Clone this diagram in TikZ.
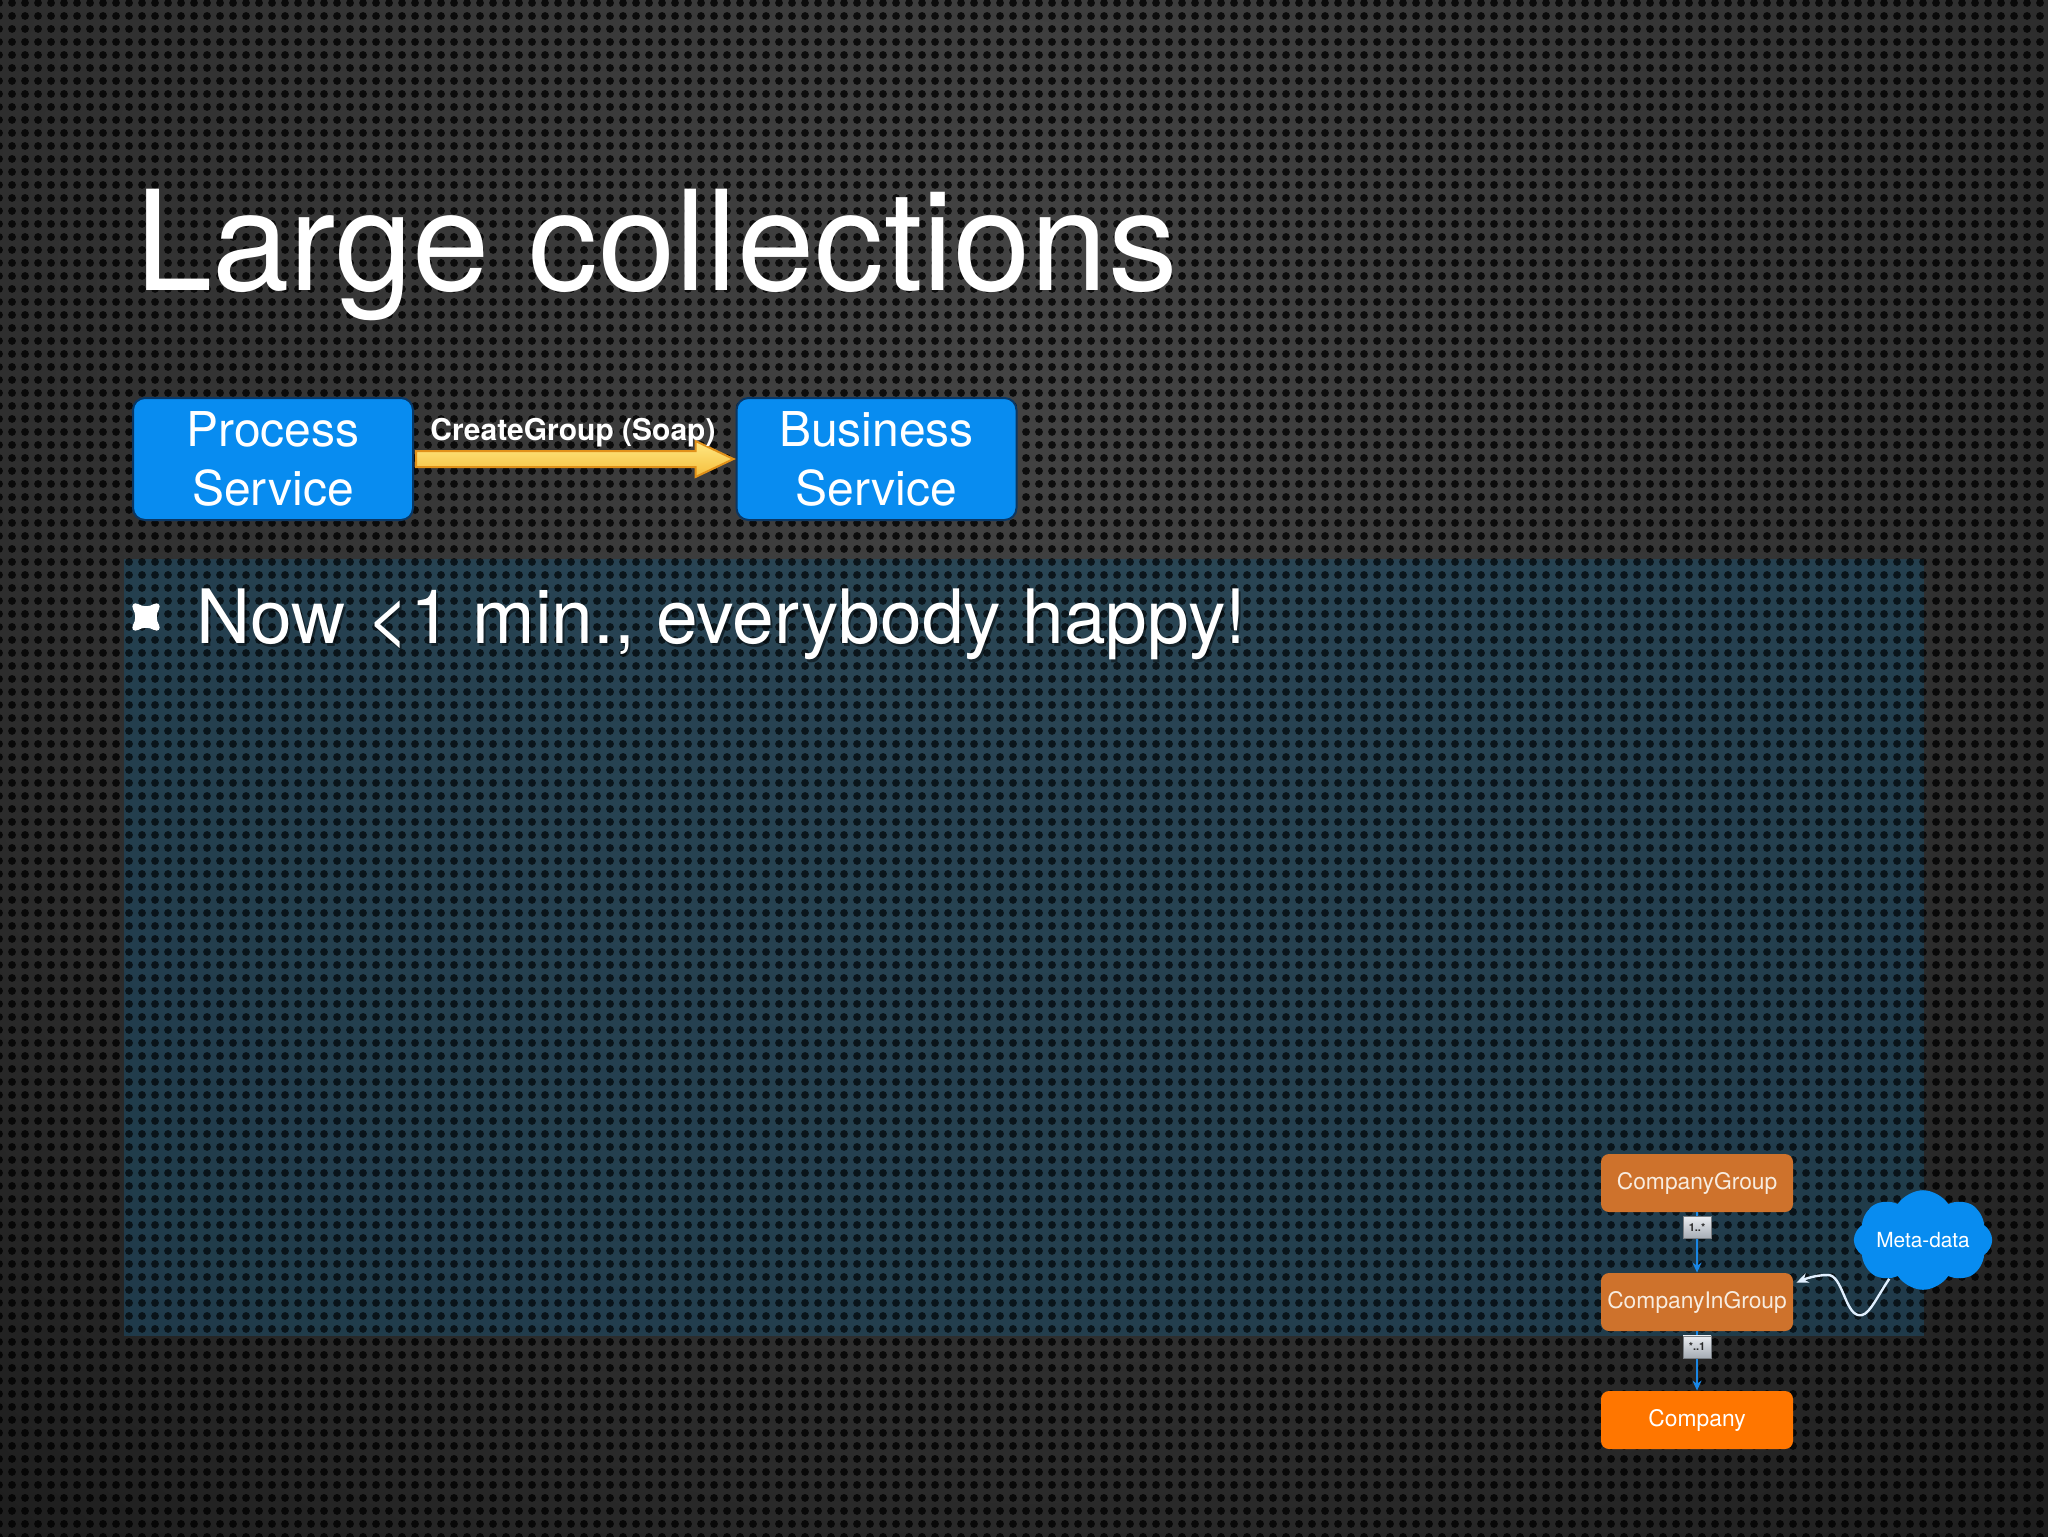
\documentclass[tikz,border=0pt]{standalone}
\usepackage{fontspec}
\setmainfont{TeX Gyre Heros}
\usetikzlibrary{shapes.symbols,arrows.meta,patterns.meta,calc}

\definecolor{boxblue}{RGB}{8,140,240}
\definecolor{boxedge}{RGB}{10,55,100}
\definecolor{arrowtop}{RGB}{255,232,130}
\definecolor{arrowbot}{RGB}{245,190,60}
\definecolor{arrowedge}{RGB}{225,145,25}
\definecolor{ormud}{RGB}{206,114,44}
\definecolor{orbright}{RGB}{255,118,0}
\definecolor{linkblue}{RGB}{25,135,230}
\definecolor{panelc}{RGB}{38,100,135}
\definecolor{bg1}{RGB}{68,68,68}
\definecolor{bg2}{RGB}{48,48,48}
\definecolor{bg3}{RGB}{22,22,22}
\definecolor{bg4}{RGB}{5,5,5}
\definecolor{curvec}{RGB}{225,240,255}
\definecolor{entext}{RGB}{248,235,222}

\pgfdeclareradialshading{bgshade}{\pgfpoint{0bp}{0bp}}{color(0bp)=(bg1); color(14bp)=(bg2); color(27bp)=(bg3); color(39bp)=(bg4); color(50bp)=(bg4)}

\tikzset{
  svc/.style={draw=boxedge, line width=1pt, fill=boxblue, rounded corners=6pt,
    minimum width=140pt, minimum height=61pt, text=white, align=center,
    font=\fontsize{24}{29.5}\selectfont, inner sep=0pt},
  ent/.style={fill=ormud, rounded corners=4pt, minimum width=96pt, minimum height=29pt,
    text=entext, font=\fontsize{11.4}{13}\selectfont, inner sep=0pt},
  mult/.style={top color={rgb,255:red,235;green,238;blue,242}, bottom color={rgb,255:red,165;green,172;blue,180},
    draw={rgb,255:red,120;green,125;blue,130}, line width=0.3pt, minimum width=14pt, minimum height=11pt,
    inner sep=0pt, text={rgb,255:red,40;green,40;blue,40}, font=\bfseries\fontsize{5.5}{6}\selectfont},
  link/.style={linkblue, line width=1.2pt, -{Stealth[length=5pt,width=4.5pt]}}
}

\begin{document}
\begin{tikzpicture}[x=0.5pt,y=-0.5pt]
\useasboundingbox (0,0) rectangle (2048,1536);
% background
\fill[black] (0,0) rectangle (2048,1536);
\begin{scope}
\clip (0,0) rectangle (2048,1536);
\shade[shading=bgshade] (1024,330) circle (1700);
\end{scope}
% panel
\fill[panelc, fill opacity=0.45] (124,559) rectangle (1924,1336);
% perforation
\fill[pattern={Dots[radius=2.1pt,distance=6.5pt]}, pattern color=black, fill opacity=0.8] (0,0) rectangle (2048,1336);
\fill[pattern={Dots[radius=2.1pt,distance=6.5pt]}, pattern color=black, fill opacity=0.8] (0,1336) rectangle (2048,1536);
\fill[panelc!40!black, fill opacity=0.25] (124,559) rectangle (1924,1336);

% title
\node[anchor=base west, font=\fontsize{69.5}{84}\selectfont, text=white, inner sep=0pt] (title) at (135,290) {Large collections};

% services
\node[svc] (ps) at (273,459) {Process\\Service};
\node[svc] (bs) at (876.5,459) {Business\\Service};
\draw[arrowedge, line width=1pt, top color=arrowtop, bottom color=arrowbot]
  ($(ps.east)+(2,-8)$) -- ($(bs.west)+(-40,-8)$) -- ($(bs.west)+(-40,-18)$) -- ($(bs.west)+(-2,0)$)
  -- ($(bs.west)+(-40,18)$) -- ($(bs.west)+(-40,8)$) -- ($(ps.east)+(2,8)$) -- cycle;
\node[font=\bfseries\fontsize{15}{18}\selectfont, text=white, anchor=base, inner sep=0pt] (lbl) at (573,440) {CreateGroup (Soap)};

% bullet
\begin{scope}[shift={(146,617)}]
\fill[white] (-8,-13) .. controls (-3,-10) and (3,-10) .. (8,-13)
  .. controls (12,-15) and (15,-12) .. (13,-8)
  .. controls (10,-3) and (10,3) .. (13,8)
  .. controls (15,12) and (12,15) .. (8,13)
  .. controls (3,10) and (-3,10) .. (-8,13)
  .. controls (-12,15) and (-15,12) .. (-13,8)
  .. controls (-10,3) and (-10,-3) .. (-13,-8)
  .. controls (-15,-12) and (-12,-15) .. (-8,-13) -- cycle;
\end{scope}
\node[anchor=base west, font=\fontsize{37.5}{45}\selectfont, text=black, text opacity=0.45, inner sep=0pt] (bshadow) at (198,646) {Now <1 min., everybody happy!};
\node[anchor=base west, font=\fontsize{37.5}{45}\selectfont, text=white, inner sep=0pt] (bullet) at (196,643) {Now <1 min., everybody happy!};

% entity diagram
\node[ent] (cg) at (1697,1183) {CompanyGroup};
\node[ent] (cig) at (1697,1302) {CompanyInGroup};
\node[ent, fill=orbright, text=white] (co) at (1697,1420) {Company};
\draw[link] (cg.south) -- (cig.north) node[pos=0.25, mult] (m1) {1..*};
\draw[link] (cig.south) -- (co.north) node[pos=0.26, mult] (m2) {*..1};

\node[cloud, cloud puffs=8, cloud puff arc=115, aspect=1.7, fill=boxblue, minimum width=68pt, minimum height=43pt,
  inner sep=0pt, text=white, font=\fontsize{10.4}{12}\selectfont] (md) at (1923,1240) {Meta-data};
\coordinate (tipc) at ($(cig.north east)!0.17!(cig.south east)+(3,0)$);
\draw[curvec, line width=1.2pt, -{Stealth[length=6pt,width=5pt]}]
  (md.229) .. controls (1875,1300) and (1868,1318) .. (1858,1315)
  .. controls (1845,1312) and (1842,1275) .. (1828,1275)
  .. controls (1815,1275) and (1805,1279) .. (tipc);
\end{tikzpicture}
\end{document}
